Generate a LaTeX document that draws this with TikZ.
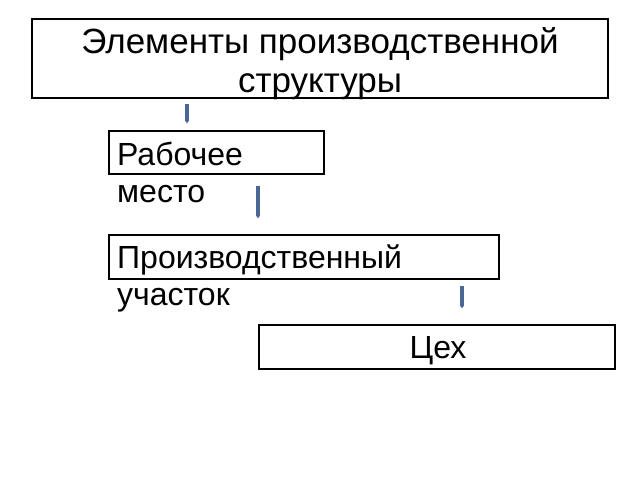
\documentclass[tikz,border=0pt]{standalone}
\usepackage{fontspec}
\setmainfont{Liberation Sans}
\usetikzlibrary{arrows.meta}

\begin{document}
\begin{tikzpicture}[x=1pt,y=-1pt,
  box/.style={draw, line width=1.3pt, inner sep=0pt},
  txt/.style={font=\fontsize{32}{37}\selectfont, inner sep=0pt, align=left},
  link/.style={draw=linkblue, line width=3.4pt, -{Latex[length=3pt,width=5pt]}}]

  \definecolor{linkblue}{RGB}{74,104,150}

  \useasboundingbox (0,0) rectangle (640,480);

  %%%%%%%%%%%%%%%%%%%%%%%%%%%%%%%%%%%%%%%%%%%%%%%%%%%%%%%%%%%%%%%%%%%%%%%%%%%%
  %% The boxes
  %%%%%%%%%%%%%%%%%%%%%%%%%%%%%%%%%%%%%%%%%%%%%%%%%%%%%%%%%%%%%%%%%%%%%%%%%%%%

  \node [box, minimum width=576pt, minimum height=79pt] (elem) at (320,58.5) {};
  \node [box, minimum width=215pt, minimum height=43pt] (rab)  at (216.5,152.5) {};
  \node [box, minimum width=390pt, minimum height=44pt] (uch)  at (304,257) {};
  \node [box, minimum width=356pt, minimum height=44pt] (tseh) at (437,347) {};

  %%%%%%%%%%%%%%%%%%%%%%%%%%%%%%%%%%%%%%%%%%%%%%%%%%%%%%%%%%%%%%%%%%%%%%%%%%%%
  %% The texts (base of the last line)
  %%%%%%%%%%%%%%%%%%%%%%%%%%%%%%%%%%%%%%%%%%%%%%%%%%%%%%%%%%%%%%%%%%%%%%%%%%%%

  \node [txt, align=center, font=\fontsize{35}{39}\selectfont, anchor=base]
        (elemtext) at (320,92) {Элементы производственной\\структуры};
  \node [txt, anchor=base west] (rabtext) at (117,202) {Рабочее\\место};
  \node [txt, anchor=base west] (uchtext) at (117,305) {Производственный\\участок};
  \node [txt, anchor=base] (tsehtext) at (438,358) {Цех};

  %%%%%%%%%%%%%%%%%%%%%%%%%%%%%%%%%%%%%%%%%%%%%%%%%%%%%%%%%%%%%%%%%%%%%%%%%%%%
  %% The connectors
  %%%%%%%%%%%%%%%%%%%%%%%%%%%%%%%%%%%%%%%%%%%%%%%%%%%%%%%%%%%%%%%%%%%%%%%%%%%%

  \foreach \a/\b/\x/\s/\e in {elem/rab/187/5/7, rab/uch/258/11/16, uch/tseh/462/6/16}
    \draw [link, shorten <=\s pt, shorten >=\e pt] (\a.south -| \x,0) -- (\b.north -| \x,0);

\end{tikzpicture}
\end{document}
